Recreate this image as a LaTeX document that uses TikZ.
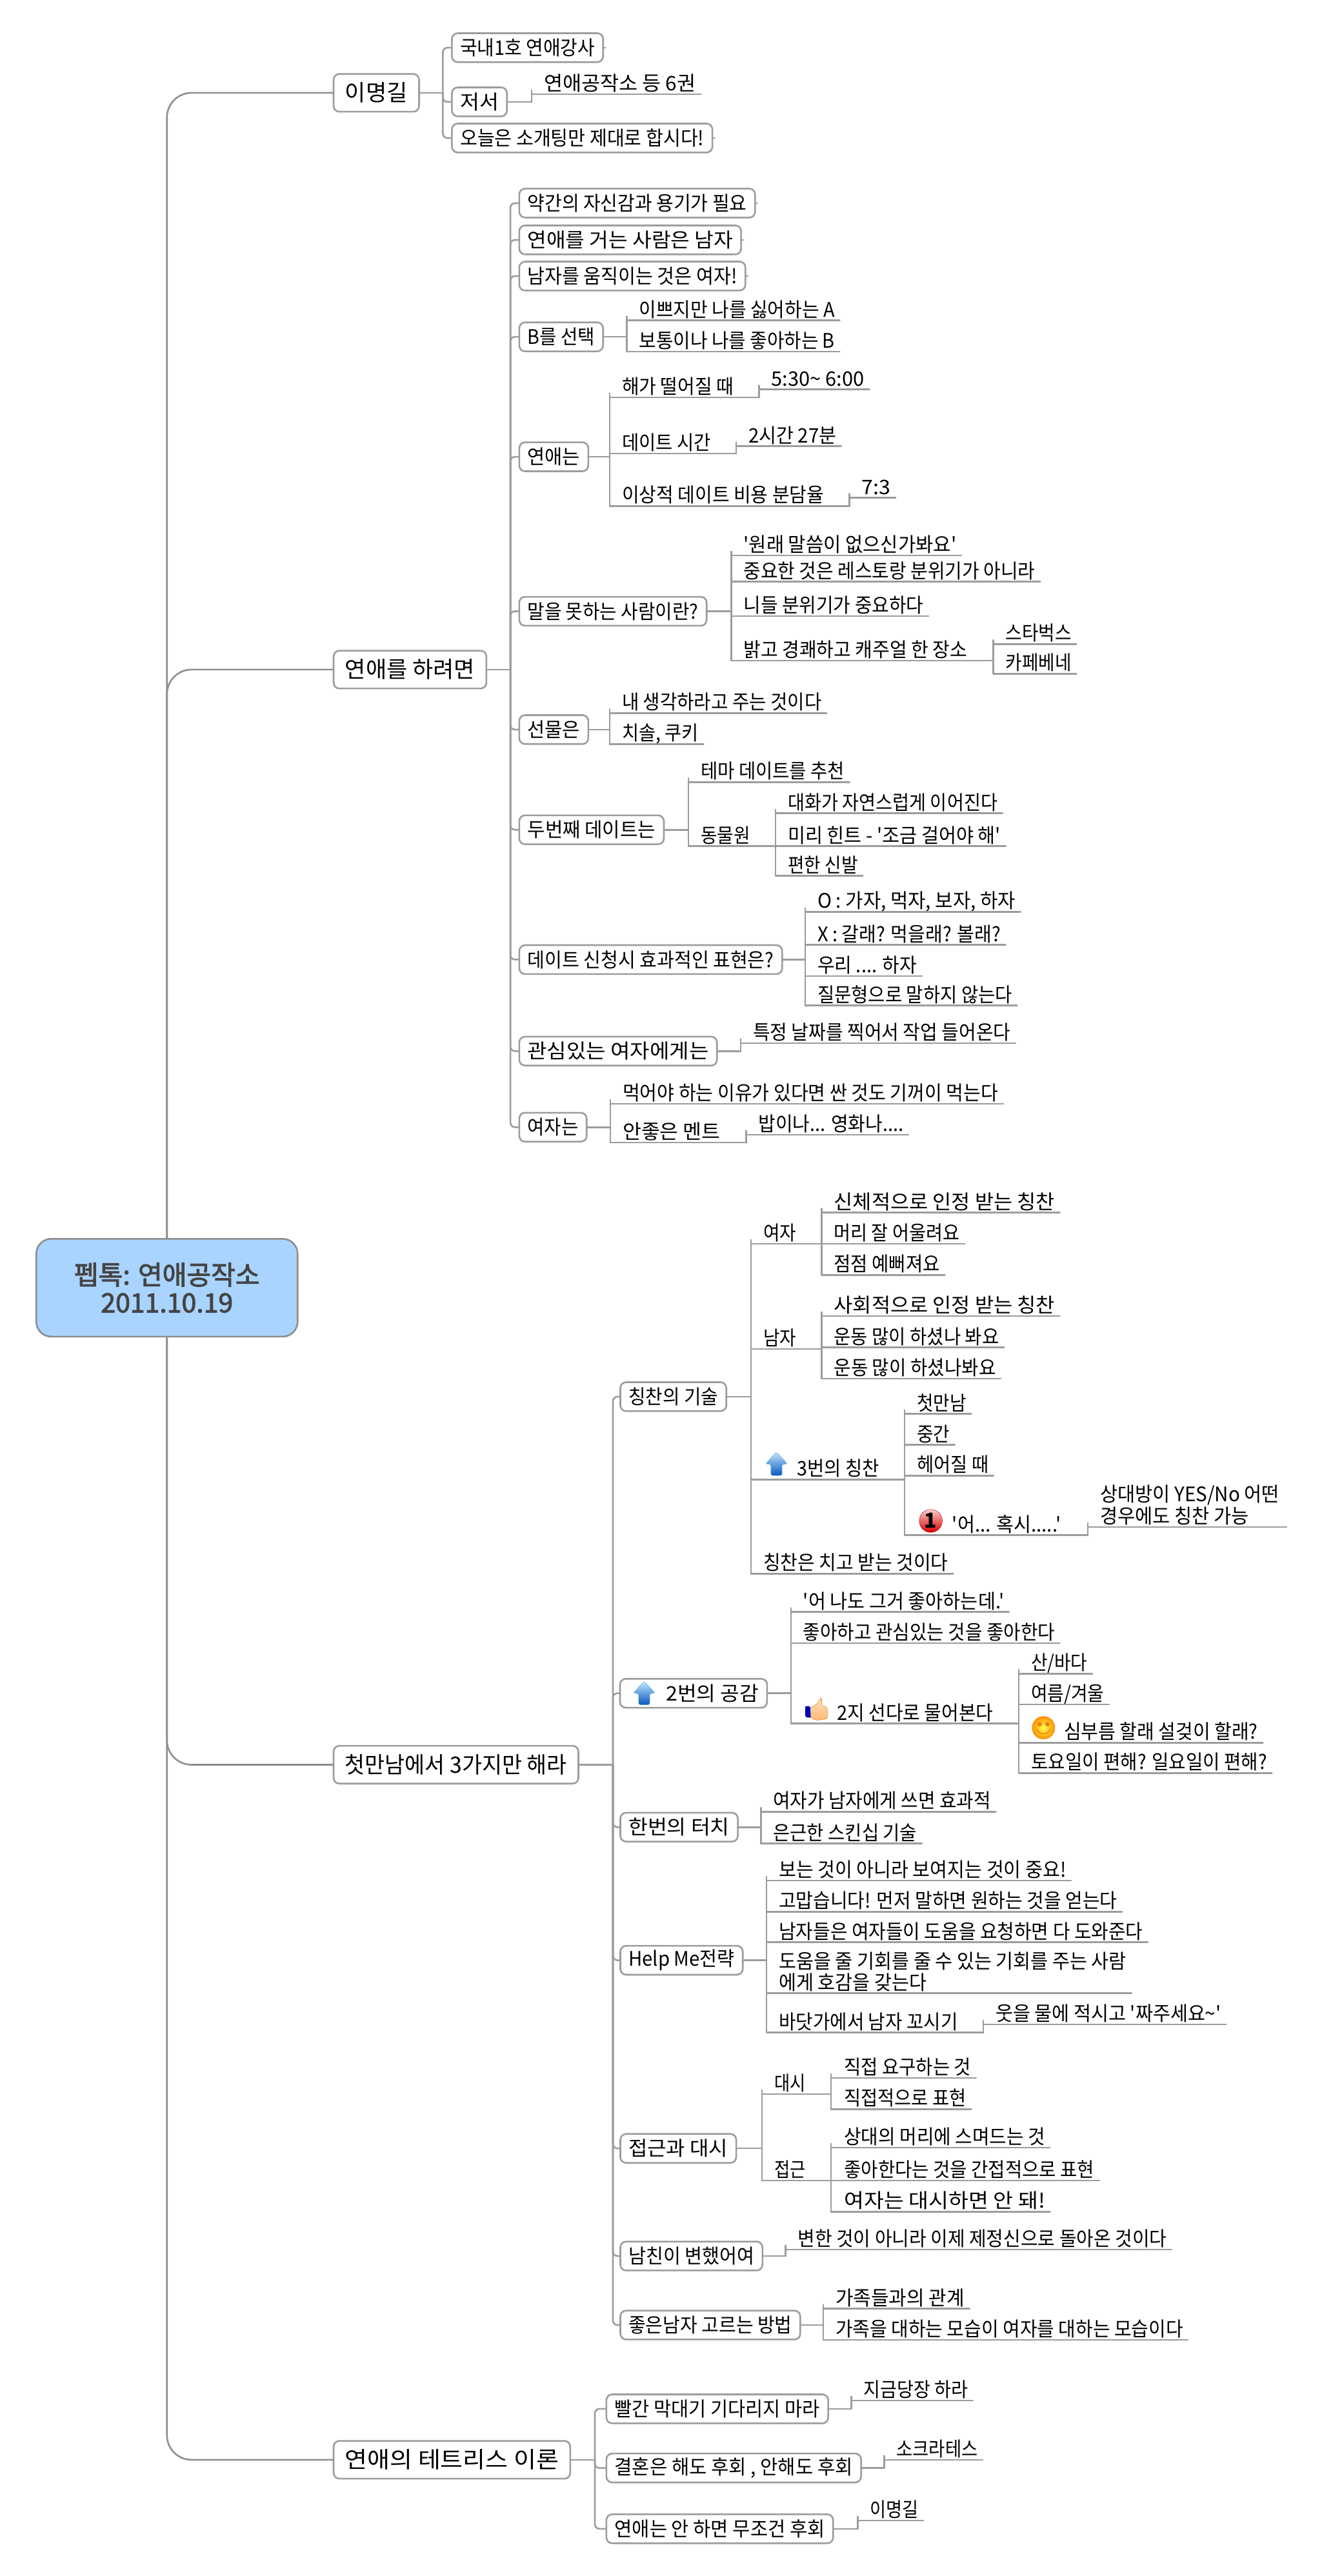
\documentclass[tikz,border=0pt]{standalone}
\usepackage{fontspec}
\usepackage{graphicx}
\newfontfamily\kr{Noto Sans CJK KR}
\newfontfamily\krb{Noto Sans CJK KR}[FakeBold=2.5]
\usetikzlibrary{calc}
\newlength\ulw
\newlength\bxw
\newlength\bxh
\newlength\txw
\newcommand\ulstrut{\rule[-5.5pt]{0pt}{33pt}}
\tikzset{
  x=2.547pt,y=-2.547pt,
  link/.style={draw=linkgray,line width=2.6pt,line cap=round},
  trunk/.style={draw=trunkgray,line width=2.6pt,rounded corners=38pt},
  bx/.style={draw=linkgray,line width=2.6pt,fill=white,rounded corners=9pt,inner sep=0pt,outer sep=0pt,text=black,font=\kr\fontsize{31}{33}\selectfont},
  topbx/.style={bx,minimum height=23*2.547pt,font=\kr\fontsize{35}{37}\selectfont},
  ul/.style={inner sep=0pt,outer sep=0pt,anchor=south west,text=black,font=\kr\fontsize{31}{33}\selectfont},
}
\definecolor{linkgray}{HTML}{9C9C9C}
\definecolor{trunkgray}{HTML}{8E8E8E}
\definecolor{rootfill}{HTML}{A9D4FF}
\definecolor{uptop}{HTML}{C4E8FF}
\definecolor{upmid}{HTML}{4AA6EE}
\definecolor{upbot}{HTML}{0A58C0}
\newcommand\bpad{5}
% box: [extra left], x1, x2, yc, name, style, text
\newcommand\B[7][0]{%
  \pgfmathsetlength\bxw{(#3-#2)*2.547}%
  \pgfmathsetlength\txw{(#3-#2-2*\bpad-#1)*2.547}%
  \node[minimum height=17.6*2.547pt,#6,minimum width=\bxw] (#5) at ({(#2+#3)/2},#4) {\hspace*{#1\dimexpr 2.547pt\relax}\resizebox{\txw}{\height}{#7}};
  \coordinate (#5-in) at (#5.west);
  \coordinate (#5-out) at (#5.east);
}
% underlined text: [right gap], name, x1, x2, yline, indent, text
\newcommand\U[7][3]{%
  \pgfmathsetlength\ulw{(#4-#3)*2.547}%
  \pgfmathsetlength\txw{(#4-#3-#6-#1)*2.547}%
  \node[ul] (#2) at (#3,#5) {\makebox[\ulw][l]{\hspace*{#6\dimexpr 2.547pt\relax}\resizebox{\txw}{\height}{#7}}};
  \draw[link] (#2.south west) -- (#2.south east);
  \coordinate (#2-in) at (#2.south west);
  \coordinate (#2-out) at (#2.south east);
}
\newcommand\T{\ulstrut}
% connector: parent, spine x, children
\newcommand\conn[3]{%
  \draw[link] (#1-out) -- (#1-out -| #2,0);
  \foreach \c in {#3} { \draw[link,rounded corners=7pt] (#1-out -| #2,0) |- (\c-in); }
}
\newcommand\stub[1]{\draw[link] (#1.east) -- ++(1.4,0);}
% icons, given by top-left corner of a 13x14 cell
\newcommand\upicon[2]{\begin{scope}[shift={(#1,#2)}]
  \shade[top color=uptop,middle color=upmid,bottom color=upbot,draw=upmid,line width=.5pt,rounded corners=3pt]
   (6.5,-.3) -- (13.2,7) -- (9.9,7) -- (9.9,14) -- (3.1,14) -- (3.1,7) -- (-.2,7) -- cycle;
\end{scope}}
\newcommand\thumbicon[2]{\begin{scope}[shift={(#1,#2)}]
  \shade[top color=orange!25!white,bottom color=orange!55!white,draw=orange!60!brown,line width=.6pt,rounded corners=3pt]
   (2.5,5.6) -- (5,5.2) -- (8,2.6) -- (9.2,0) -- (10.2,1) -- (9.8,4.6) -- (13.5,5.6) -- (13.5,12.5) -- (6.5,13.5) -- (2.5,11) -- cycle;
  \fill[blue!70!black,rounded corners=2pt] (0,4.8) -- (3,4.8) -- (3.4,12) -- (0,11.5) -- cycle;
\end{scope}}
\newcommand\oneicon[3]{\begin{scope}[shift={(#1,#2)}]
  \shade[top color=red!20!white,bottom color=red!85!black,draw=red!60!black,line width=.4pt] (7,7) circle (7);
  \node[inner sep=0pt,outer sep=0pt,font=\kr\bfseries\fontsize{32}{32}\selectfont,text=black] (#3) at (7,6.7) {1};
\end{scope}}
\newcommand\smileicon[2]{\begin{scope}[shift={(#1,#2)}]
  \shade[inner color=yellow!70!white,outer color=orange!85!yellow,draw=orange!80!brown,line width=.5pt] (7,7) circle (6.9);
  \fill[orange!60!brown] (4.7,4.8) circle (1.3) (9.4,4.8) circle (1.3);
  \draw[orange!60!brown,line width=1.4pt,line cap=round] (2.8,7.8) .. controls (4.8,11.6) and (9.2,11.6) .. (11.2,7.8);
\end{scope}}
\begin{document}
\begin{tikzpicture}
\useasboundingbox (0,0) rectangle (804.1,1567.75);
% root
\node[draw=trunkgray,line width=2.6pt,fill=rootfill,rounded corners=23pt,inner sep=0pt,outer sep=0pt,
  minimum width=159*2.547pt,minimum height=59.5*2.547pt,align=center,text=black!73,font=\krb\fontsize{41}{43}\selectfont] (root) at (101.6,783.7) {펩톡: 연애공작소\\2011.10.19};
% level one
\begingroup
\renewcommand\bpad{7}
\B{203}{255}{56.5}{lm}{topbx}{이명길}
\B{203}{296}{407.5}{love}{topbx}{연애를 하려면}
\B{203}{352}{1074}{first}{topbx}{첫만남에서 3가지만 해라}
\B{203}{347}{1497}{tet}{topbx}{연애의 테트리스 이론}
\endgroup
\foreach \n in {lm,love} \draw[trunk] (root.north) |- (\n.west);
\foreach \n in {first,tet} \draw[trunk] (root.south) |- (\n.west);
% 이명길
\B{275}{367}{29}{a1}{bx}{국내1호 연애강사}
\B{275}{308.5}{62}{a2}{bx}{저서}
\B{275}{433.5}{84}{a3}{bx}{오늘은 소개팅만 제대로 합시다!}
\U{a21}{323.5}{426.5}{57.3}{7.5}{\T 연애공작소 등 6권}
\conn{lm}{269.5}{a1,a2,a3}
\conn{a2}{323.5}{a21}
\stub{a1}\stub{a3}
% 연애를 하려면
\B{316}{459.5}{123.6}{b1}{bx}{약간의 자신감과 용기가 필요}
\B{316}{451}{146}{b2}{bx}{연애를 거는 사람은 남자}
\B{316}{453.6}{168}{b3}{bx}{남자를 움직이는 것은 여자!}
\B{316}{367}{205}{b4}{bx}{B를 선택}
\B{316}{358}{278}{b5}{bx}{연애는}
\B{316}{430}{372}{b6}{bx}{말을 못하는 사람이란?}
\B{316}{358}{444}{b7}{bx}{선물은}
\B{316}{404}{505}{b8}{bx}{두번째 데이트는}
\B{316}{476}{584}{b9}{bx}{데이트 신청시 효과적인 표현은?}
\B{316}{436.3}{639.7}{b10}{bx}{관심있는 여자에게는}
\B{316}{357}{686}{b11}{bx}{여자는}
\conn{love}{310.6}{b1,b2,b3,b4,b5,b6,b7,b8,b9,b10,b11}
\stub{b1}\stub{b2}\stub{b3}
\U{b41}{381.5}{511}{195}{7.5}{\T 이쁘지만 나를 싫어하는 A}
\U{b42}{381.5}{511}{214}{7.5}{\T 보통이나 나를 좋아하는 B}
\conn{b4}{381.5}{b41,b42}
\U[15.5]{b51}{371}{462}{241.8}{7.5}{\T 해가 떨어질 때}
\U{b511}{462}{529}{237}{7.5}{\T 5:30\string~ 6:00}
\U[15.5]{b52}{371}{448}{276}{7.5}{\T 데이트 시간}
\U{b521}{448}{512}{271.5}{7.5}{\T 2시간 27분}
\U[15.5]{b53}{371}{517}{308}{7.5}{\T 이상적 데이트 비용 분담율}
\U{b531}{517}{545}{303}{7.5}{\T 7:3}
\conn{b5}{371}{b51,b52,b53}
\conn{b51}{462}{b511}
\conn{b52}{448}{b521}
\conn{b53}{517}{b531}
\U{b61}{445}{585}{338}{7.5}{\T '원래 말씀이 없으신가봐요'}
\U{b62}{445}{633}{354}{7.5}{\T 중요한 것은 레스토랑 분위기가 아니라}
\U{b63}{445}{565}{375}{7.5}{\T 니들 분위기가 중요하다}
\U[15.5]{b64}{445}{604}{402}{7.5}{\T 밝고 경쾌하고 캐주얼 한 장소}
\U{b641}{604.5}{655}{392}{7.5}{\T 스타벅스}
\U{b642}{604.5}{655}{410}{7.5}{\T 카페베네}
\conn{b6}{445}{b61,b62,b63,b64}
\conn{b64}{604.5}{b641,b642}
\U{b71}{371}{503}{434}{7.5}{\T 내 생각하라고 주는 것이다}
\U{b72}{371}{428}{453}{7.5}{\T 치솔, 쿠키}
\conn{b7}{371}{b71,b72}
\U{b81}{419}{517}{476}{7.5}{\T 테마 데이트를 추천}
\U[15.5]{b82}{419}{472}{515}{7.5}{\T 동물원}
\U{b821}{472}{610}{495}{7.5}{\T 대화가 자연스럽게 이어진다}
\U{b822}{472}{612}{515}{7.5}{\T 미리 힌트 - '조금 걸어야 해'}
\U{b823}{472}{525}{533}{7.5}{\T 편한 신발}
\conn{b8}{419}{b81,b82}
\conn{b82}{472}{b821,b822,b823}
\U{b91}{490}{621}{555}{7.5}{\T O : 가자, 먹자, 보자, 하자}
\U{b92}{490}{612}{575}{7.5}{\T X : 갈래? 먹을래? 볼래?}
\U{b93}{490}{561}{594}{7.5}{\T 우리 .... 하자}
\U{b94}{490}{619}{612}{7.5}{\T 질문형으로 말하지 않는다}
\conn{b9}{490}{b91,b92,b93,b94}
\U{b101}{450.7}{618}{634.8}{7.5}{\T 특정 날짜를 찍어서 작업 들어온다}
\conn{b10}{450.7}{b101}
\U{b111}{371.4}{610.5}{671.8}{7.5}{\T 먹어야 하는 이유가 있다면 싼 것도 기꺼이 먹는다}
\U[15.5]{b112}{371.4}{454}{695.4}{7.5}{\T 안좋은 멘트}
\U{b1121}{454}{552.8}{690.6}{7.5}{\T 밥이나... 영화나....}
\conn{b11}{371.4}{b111,b112}
\conn{b112}{454}{b1121}
% 첫만남
\B{377.5}{442}{850}{c1}{bx}{칭찬의 기술}
\B[23]{377.3}{466.8}{1030.5}{c2}{bx}{2번의 공감}
\B{377.5}{449}{1112}{c3}{bx}{한번의 터치}
\B{377.5}{452}{1193}{c4}{bx}{Help Me전략}
\B{377.5}{448}{1307.5}{c5}{bx}{접근과 대시}
\B{377.5}{464}{1373}{c6}{bx}{남친이 변했어여}
\B{377.5}{487}{1415}{c7}{bx}{좋은남자 고르는 방법}
\conn{first}{373}{c1,c2,c3,c4,c5,c6,c7}
\U[15.5]{c11}{457}{500}{757}{7.5}{\T 여자}
\U[15.5]{c12}{457}{500}{821}{7.5}{\T 남자}
\U[15.5]{c13}{457}{550.5}{900.4}{28}{\T 3번의 칭찬}
\U{c14}{457}{580}{957.7}{7.5}{\T 칭찬은 치고 받는 것이다}
\conn{c1}{457}{c11,c12,c13,c14}
\upicon{466}{884}
\U{c111}{500}{645}{738}{7.5}{\T 신체적으로 인정 받는 칭찬}
\U{c112}{500}{587}{757}{7.5}{\T 머리 잘 어울려요}
\U{c113}{500}{575}{776}{7.5}{\T 점점 예뻐져요}
\conn{c11}{500}{c111,c112,c113}
\U{c121}{500}{645}{801}{7.5}{\T 사회적으로 인정 받는 칭찬}
\U{c122}{500}{611}{820}{7.5}{\T 운동 많이 하셨나 봐요}
\U{c123}{500}{609}{839}{7.5}{\T 운동 많이 하셨나봐요}
\conn{c12}{500}{c121,c122,c123}
\U{c131}{550.5}{591}{860.5}{7.5}{\T 첫만남}
\U{c132}{550.5}{581}{879.3}{7.5}{\T 중간}
\U{c133}{550.5}{604.6}{898}{7.5}{\T 헤어질 때}
\U[16.4]{c134}{550.5}{662}{934.3}{29}{\T '어... 혹시.....'}
\conn{c13}{550.5}{c131,c132,c133,c134}
\oneicon{559.4}{918.6}{onemark}
\U[4.5]{c1341}{662}{783}{929.3}{7.5}{\vbox{\hbox{\T 상대방이 YES/No 어떤}\hbox{\T 경우에도 칭찬 가능}}}
\conn{c134}{662}{c1341}
\upicon{385.5}{1023.5}
\U{c21}{481.3}{614}{981}{7.5}{\T '어 나도 그거 좋아하는데.'}
\U{c22}{481.3}{645}{1000}{7.5}{\T 좋아하고 관심있는 것을 좋아한다}
\U[15.5]{c23}{481.3}{620}{1049}{28}{\T 2지 선다로 물어본다}
\conn{c2}{481.3}{c21,c22,c23}
\thumbicon{490}{1033.5}
\U{c231}{620}{664.7}{1018.6}{7.5}{\T 산/바다}
\U{c232}{620}{675}{1037.3}{7.5}{\T 여름/겨울}
\U{c233}{620}{768.5}{1060.6}{27.5}{\T 심부름 할래 설겆이 할래?}
\U{c234}{620}{774}{1079}{7.5}{\T 토요일이 편해? 일요일이 편해?}
\conn{c23}{620}{c231,c232,c233,c234}
\smileicon{628}{1044.5}
\U{c31}{463}{606}{1102.6}{7.5}{\T 여자가 남자에게 쓰면 효과적}
\U{c32}{463}{561}{1122}{7.5}{\T 은근한 스킨십 기술}
\conn{c3}{463}{c31,c32}
\U{c41}{466.5}{651.8}{1144.5}{7.5}{\T 보는 것이 아니라 보여지는 것이 중요!}
\U{c42}{466.5}{682.8}{1163.5}{7.5}{\T 고맙습니다! 먼저 말하면 원하는 것을 얻는다}
\U{c43}{466.5}{698.5}{1182}{7.5}{\T 남자들은 여자들이 도움을 요청하면 다 도와준다}
\U{c44}{466.5}{688.5}{1213}{7.5}{\vbox{\hbox{\T 도움을 줄 기회를 줄 수 있는 기회를 주는 사람}\hbox{\T 에게 호감을 갖는다}}}
\U[15.5]{c45}{466.5}{598.4}{1237}{7.5}{\T 바닷가에서 남자 꼬시기}
\U{c451}{598.4}{746}{1232}{7.5}{\T 웃을 물에 적시고 '짜주세요\string~'}
\conn{c4}{466.5}{c41,c42,c43,c44,c45}
\conn{c45}{598.4}{c451}
\U[15.5]{c51}{463.7}{505.7}{1274.4}{7.5}{\T 대시}
\U[15.5]{c52}{463.7}{505.7}{1327}{7.5}{\T 접근}
\conn{c5}{463.7}{c51,c52}
\U{c511}{505.7}{594}{1264.6}{8}{\T 직접 요구하는 것}
\U{c512}{505.7}{591}{1283.6}{8}{\T 직접적으로 표현}
\conn{c51}{505.7}{c511,c512}
\U{c521}{505.7}{639}{1307}{8}{\T 상대의 머리에 스며드는 것}
\U{c522}{505.7}{669}{1327}{8}{\T 좋아한다는 것을 간접적으로 표현}
\U{c523}{505.7}{639}{1346}{8}{\T 여자는 대시하면 안 돼!}
\conn{c52}{505.7}{c521,c522,c523}
\U{c61}{478}{713}{1369}{7.5}{\T 변한 것이 아니라 이제 제정신으로 돌아온 것이다}
\conn{c6}{478}{c61}
\U{c71}{501}{590}{1405}{7.5}{\T 가족들과의 관계}
\U{c72}{501}{723}{1424}{7.5}{\T 가족을 대하는 모습이 여자를 대하는 모습이다}
\conn{c7}{501}{c71,c72}
% 테트리스
\B{369}{504}{1466}{d1}{bx}{빨간 막대기 기다리지 마라}
\B{369}{524}{1502}{d2}{bx}{결혼은 해도 후회 , 안해도 후회}
\B{369}{507}{1539}{d3}{bx}{연애는 안 하면 무조건 후회}
\conn{tet}{362}{d1,d2,d3}
\U{d11}{518}{592}{1461}{7.5}{\T 지금당장 하라}
\U{d21}{538}{598}{1497}{7.5}{\T 소크라테스}
\U{d31}{522}{562}{1534}{7.5}{\T 이명길}
\conn{d1}{518}{d11}
\conn{d2}{538}{d21}
\conn{d3}{522}{d31}
\end{tikzpicture}
\end{document}
